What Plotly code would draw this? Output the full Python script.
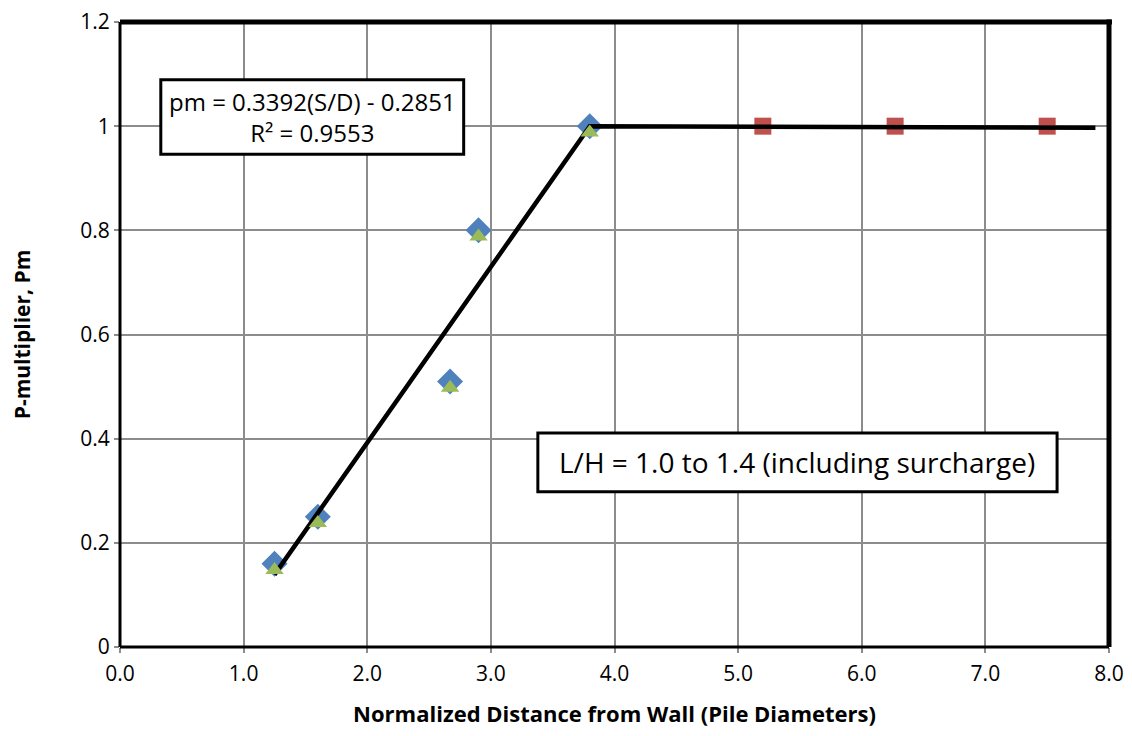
import plotly.graph_objects as go

# data
diam_x = [1.25, 1.6, 2.67, 2.9, 3.8]
diam_y = [0.16, 0.25, 0.51, 0.80, 1.0]
tri_x = [1.25, 1.6, 2.67, 2.9, 3.8]
tri_y = [0.16, 0.25, 0.51, 0.80, 1.0]
sq_x = [5.2, 6.27, 7.5]
sq_y = [1.0, 1.0, 1.0]
fit_x = [1.25, 3.8, 7.89]
fit_y = [0.139, 1.0, 0.997]
x_ticks = [0, 1, 2, 3, 4, 5, 6, 7, 8]
x_ticklabels = ["0.0", "1.0", "2.0", "3.0", "4.0", "5.0", "6.0", "7.0", "8.0"]
y_ticks = [0, 0.2, 0.4, 0.6, 0.8, 1, 1.2]
y_ticklabels = ["0", "0.2", "0.4", "0.6", "0.8", "1", "1.2"]

FONT = "Open Sans"
Y_SHIFT = 0.012  # green triangles drawn on an overlaid, slightly shifted axis

fig = go.Figure()
fig.add_trace(go.Scatter(x=tri_x, y=tri_y, mode="markers", yaxis="y2",
                         marker=dict(symbol="triangle-up", size=16, color="#9BBB59"),
                         showlegend=False))
fig.add_trace(go.Scatter(x=diam_x, y=diam_y, mode="markers",
                         marker=dict(symbol="diamond", size=20, color="#4F81BD"),
                         showlegend=False))
fig.add_trace(go.Scatter(x=sq_x, y=sq_y, mode="markers",
                         marker=dict(symbol="square", size=17, color="#C0504D"),
                         showlegend=False))
fig.add_trace(go.Scatter(x=fit_x, y=fit_y, mode="lines",
                         line=dict(color="black", width=4.5),
                         showlegend=False))

# plot border: thin left/bottom, thick top/right
fig.add_shape(type="line", xref="paper", yref="paper", x0=0, x1=0, y0=0, y1=1,
              line=dict(color="black", width=3))
fig.add_shape(type="line", xref="paper", yref="paper", x0=0, x1=1, y0=0, y1=0,
              line=dict(color="black", width=3))
fig.add_shape(type="line", xref="paper", yref="paper", x0=0, x1=1.003, y0=1, y1=1,
              line=dict(color="black", width=5))
fig.add_shape(type="line", xref="paper", yref="paper", x0=1, x1=1, y0=0, y1=1.004,
              line=dict(color="black", width=5))

# equation box
fig.add_shape(type="rect", x0=0.33, x1=2.78, y0=0.946, y1=1.089,
              line=dict(color="black", width=3), fillcolor="white")
fig.add_annotation(x=1.555, y=1.0175, text="pm = 0.3392(S/D) - 0.2851<br>R² = 0.9553",
                   showarrow=False, font=dict(family=FONT, size=24, color="black"),
                   align="center")
# L/H box
fig.add_shape(type="rect", x0=3.38, x1=7.58, y0=0.298, y1=0.411,
              line=dict(color="black", width=3), fillcolor="white")
fig.add_annotation(x=5.48, y=0.3545, text="L/H = 1.0 to 1.4 (including surcharge)",
                   showarrow=False, font=dict(family=FONT, size=28, color="black"))

fig.update_xaxes(range=[0, 8], tickvals=x_ticks, ticktext=x_ticklabels,
                 automargin=False, ticklabeloverflow="allow",
                 showgrid=True, gridcolor="#8c8c8c", gridwidth=2,
                 zeroline=False, showline=False,
                 ticks="outside", ticklen=5, tickcolor="#8c8c8c", tickwidth=2,
                 ticklabelstandoff=3,
                 tickfont=dict(family=FONT, size=21, color="black"),
                 title=dict(text="<b>Normalized Distance from Wall (Pile Diameters)</b>",
                            font=dict(family=FONT, size=22, color="black"), standoff=33))
fig.update_yaxes(range=[0, 1.2], tickvals=y_ticks, ticktext=y_ticklabels,
                 automargin=False, ticklabeloverflow="allow",
                 showgrid=True, gridcolor="#8c8c8c", gridwidth=2,
                 zeroline=False, showline=False,
                 ticks="outside", ticklen=5, tickcolor="#8c8c8c", tickwidth=2,
                 tickfont=dict(family=FONT, size=21, color="black"),
                 title=dict(text="<b>P-multiplier, Pm</b>",
                            font=dict(family=FONT, size=21, color="black"), standoff=48))

fig.update_layout(
    yaxis2=dict(overlaying="y", range=[Y_SHIFT, 1.2 + Y_SHIFT], visible=False),
    width=1116, height=720, plot_bgcolor="white", paper_bgcolor="white",
    margin=dict(l=112, r=15, t=14, b=81), showlegend=False)

fig.write_html("out.html")
